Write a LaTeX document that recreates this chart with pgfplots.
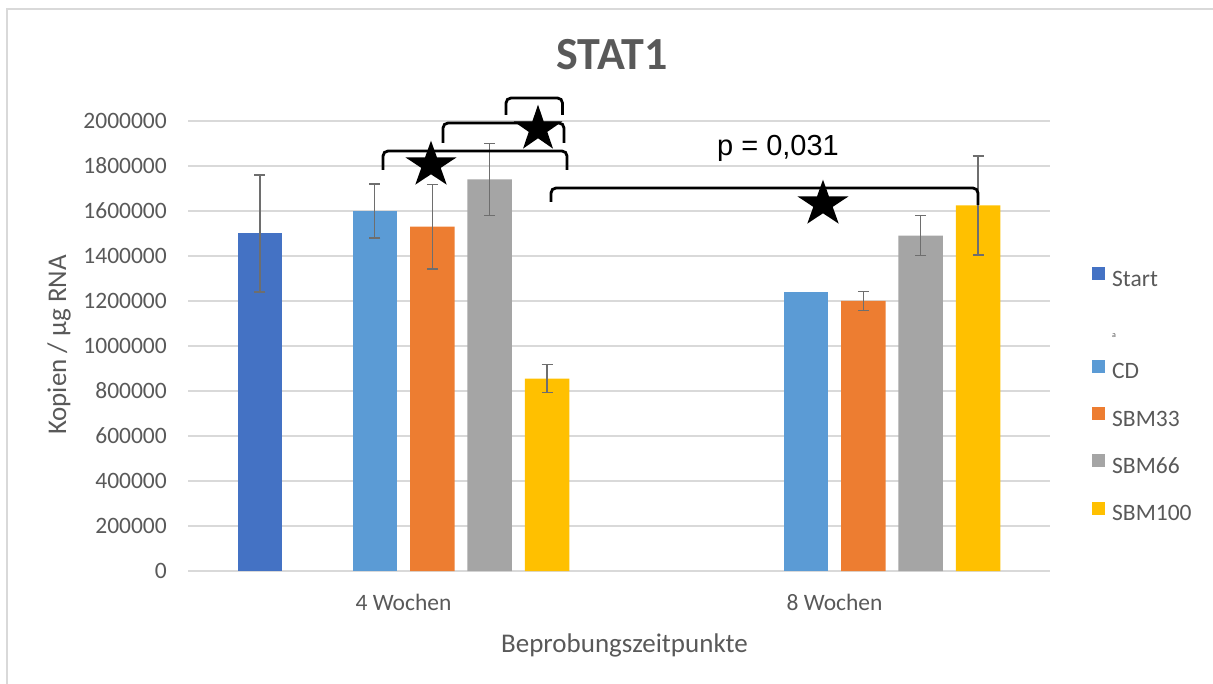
\documentclass[border=0pt]{standalone}
\usepackage{pgfplots}
\pgfplotsset{compat=1.18}
\usepackage{fontspec}
\setmainfont{Carlito}
\newfontfamily\arialfont{Liberation Sans}
\usetikzlibrary{shapes.geometric}
\definecolor{cStart}{HTML}{4472C4}
\definecolor{cCD}{HTML}{5B9BD5}
\definecolor{cS33}{HTML}{ED7D31}
\definecolor{cS66}{HTML}{A5A5A5}
\definecolor{cS100}{HTML}{FFC000}
\definecolor{textg}{HTML}{595959}
\definecolor{gridg}{HTML}{D9D9D9}
\definecolor{errg}{HTML}{6E6E6E}
\pgfplotsset{
  myerr/.style={error bars/.cd, y dir=both, y explicit,
    error bar style={draw=errg, line width=1.4bp},
    error mark options={draw=errg, line width=1.4bp, mark size=5.5bp, rotate=90}},
}
\begin{document}
\begin{tikzpicture}
\useasboundingbox (0,0) rectangle (1213bp,684bp);
\draw[line width=2bp, color=gridg] (7bp,0bp) -- (7bp,675bp) -- (1213bp,675bp);
\begin{axis}[
  at={(188bp,113bp)}, anchor=south west,
  scale only axis, width=862bp, height=450bp,
  xmin=-0.5, xmax=1.5, ymin=0, ymax=2000000,
  clip=false,
  axis line style={draw=none},
  major tick length=0pt,
  ymajorgrids,
  grid style={color=gridg, line width=1.5bp},
  xtick={0,1}, xticklabels={4 Wochen, 8 Wochen},
  ytick={0,200000,400000,600000,800000,1000000,1200000,1400000,1600000,1800000,2000000},
  scaled y ticks=false,
  /pgf/number format/fixed,
  /pgf/number format/precision=0,
  /pgf/number format/1000 sep={},
  /pgf/number format/assume math mode=true,
  tick label style={font=\fontsize{23.5bp}{28bp}\selectfont, color=textg},
  yticklabel style={anchor=east, inner sep=0pt, xshift=-21bp},
  xticklabel style={anchor=base, inner sep=0pt, yshift=-39bp},
  title={STAT1},
  title style={font=\bfseries\fontsize{46bp}{50bp}\selectfont, color=textg, at={(rel axis cs:0.4919,1.1022)}, anchor=base, inner sep=0pt},
  xlabel={Beprobungszeitpunkte},
  ylabel={Kopien / µg RNA},
  every axis x label/.style={at={(rel axis cs:0.5064,-0.1822)}, anchor=base, inner sep=0pt, font=\fontsize{27bp}{32bp}\selectfont, color=textg},
  every axis y label/.style={at={(rel axis cs:-0.1415,0.502)}, rotate=90, anchor=base, inner sep=0pt, font=\fontsize{27bp}{32bp}\selectfont, color=textg},
  ybar, bar width=44.5bp, bar shift=0pt,
  legend image code/.code={\fill[#1] (0bp,0bp) rectangle (13bp,13bp);},
  legend cell align=left,
  legend style={at={(rel axis cs:1.0487,0.6756)}, anchor=north west, draw=none, fill=none, inner sep=0pt, row sep=23.3bp, column sep=7bp,
    nodes={inner sep=0pt, text height=17bp, text depth=5bp},
    font=\fontsize{23.5bp}{28bp}\selectfont, text=textg},
]
\addplot[fill=cStart, draw=none, myerr] coordinates {
  (-0.3333,1500000) +- (0,260000)
};
\addlegendentry{Start}
\addlegendimage{legend image code/.code={}}
\addlegendentry{\raisebox{-6bp}{\fontsize{8bp}{9bp}\selectfont a}}
\addplot[fill=cCD, draw=none, myerr] coordinates {
  (-0.0667,1600000) +- (0,120000)
};
\addlegendentry{CD}
\addplot[fill=cS33, draw=none, myerr] coordinates {
  (0.0667,1530000) +- (0,187000)
  (1.0667,1200000) +- (0,42000)
};
\addlegendentry{SBM33}
\addplot[fill=cS66, draw=none, myerr] coordinates {
  (0.2,1740000) +- (0,160000)
  (1.2,1490000) +- (0,89000)
};
\addlegendentry{SBM66}
\addplot[fill=cS100, draw=none, myerr] coordinates {
  (0.3333,855000) +- (0,62000)
  (1.3333,1625000) +- (0,220000)
};
\addlegendentry{SBM100}
\addplot[fill=cCD, draw=none, forget plot] coordinates {
  (0.9333,1240000)
};
% significance brackets
\draw[line width=2.8bp, rounded corners=5bp] (axis cs:-0.0476,1782222) -- (axis cs:-0.0476,1866667) -- (axis cs:0.3794,1866667) -- (axis cs:0.3794,1782222);
\draw[line width=2.8bp, rounded corners=5bp] (axis cs:0.0916,1902222) -- (axis cs:0.0916,1991111) -- (axis cs:0.3724,1991111) -- (axis cs:0.3724,1902222);
\draw[line width=2.8bp, rounded corners=5bp] (axis cs:0.2378,2026667) -- (axis cs:0.2378,2102222) -- (axis cs:0.3689,2102222) -- (axis cs:0.3689,2026667);
\draw[line width=2.8bp, rounded corners=5bp] (axis cs:0.3422,1640000) -- (axis cs:0.3422,1702222) -- (axis cs:1.3329,1702222) -- (axis cs:1.3329,1626667);
\node[star, star points=5, star point ratio=2.618, fill=black, draw=none, inner sep=0pt, minimum size=48.6bp, xscale=1.1] at (axis cs:0.0638,1804444) {};
\node[star, star points=5, star point ratio=2.618, fill=black, draw=none, inner sep=0pt, minimum size=48.6bp, xscale=1.05] at (axis cs:0.3121,1964444) {};
\node[star, star points=5, star point ratio=2.618, fill=black, draw=none, inner sep=0pt, minimum size=48.6bp, xscale=1.1] at (axis cs:0.9733,1631111) {};
\node[anchor=base, inner sep=0pt, font=\arialfont\fontsize{29bp}{34bp}\selectfont] at (axis cs:0.8689,1844444) {p = 0,031};
\end{axis}
\end{tikzpicture}
\end{document}
